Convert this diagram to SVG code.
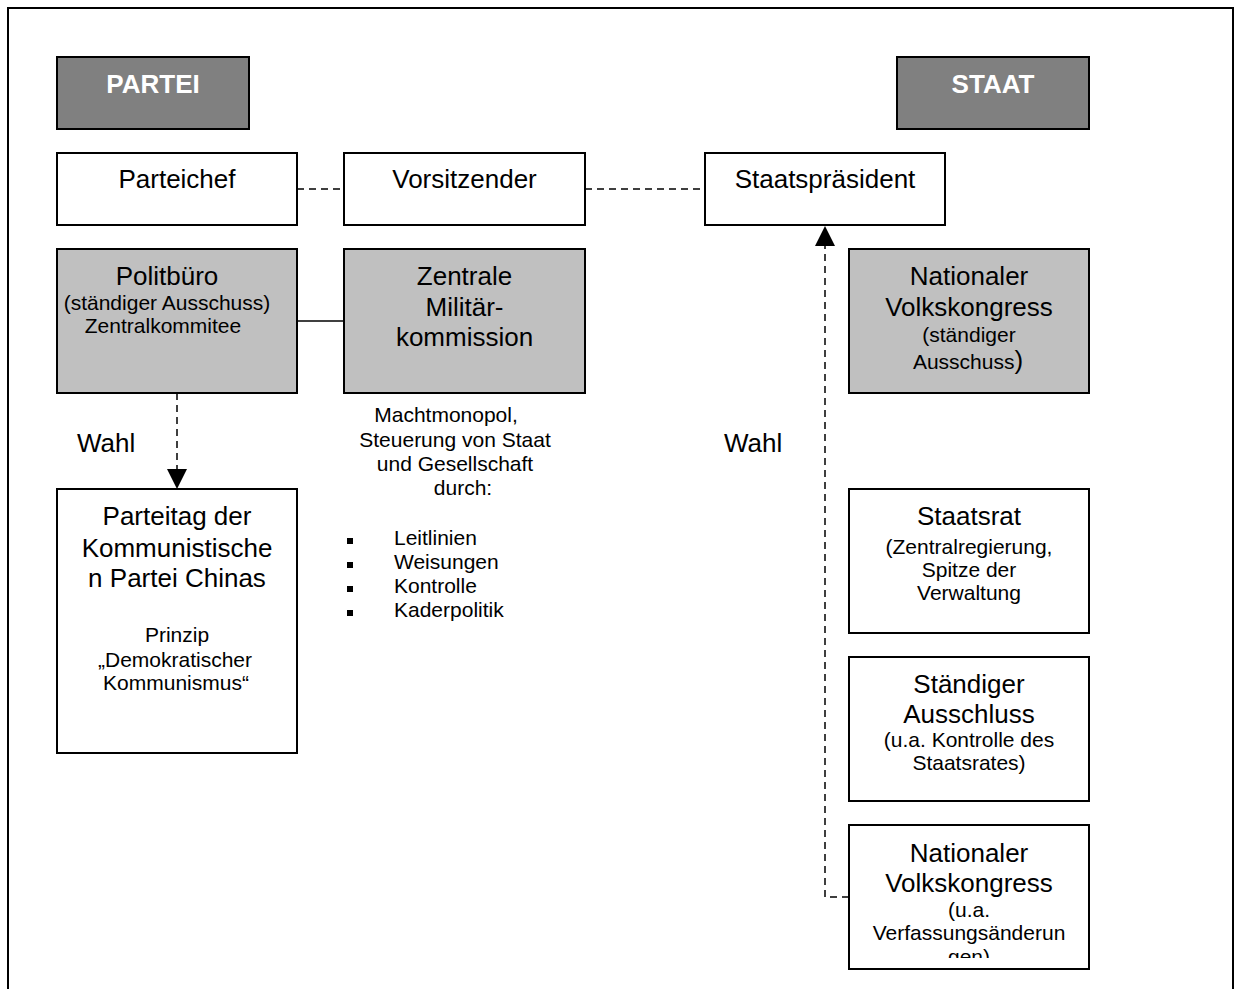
<svg xmlns="http://www.w3.org/2000/svg" width="1235" height="989" viewBox="0 0 1235 989">
<style>
  .box{fill:#ffffff;stroke:#000;stroke-width:2}
  .gray{fill:#c0c0c0;stroke:#000;stroke-width:2}
  .head{fill:#808080;stroke:#000;stroke-width:2}
  text{font-family:"Liberation Sans",Arial,sans-serif;fill:#000;text-anchor:middle}
  .big{font-size:26px}
  .sm{font-size:21px}
  .ht{font-size:26px;font-weight:bold;fill:#fff}
  .lt{text-anchor:start}
  .dash{fill:none;stroke:#000;stroke-width:1.5;stroke-dasharray:7 5}
  .solid{fill:none;stroke:#000;stroke-width:1.5}
</style>
<defs>
  <marker id="arr" markerUnits="userSpaceOnUse" markerWidth="20" markerHeight="20" refX="20" refY="10" orient="auto">
    <path d="M0,0 L20,10 L0,20 z" fill="#000"/>
  </marker>
  <clipPath id="clipNvk"><rect x="849" y="825" width="240" height="133"/></clipPath>
</defs>
<rect x="8" y="8" width="1225" height="1000" fill="#fff" stroke="#000" stroke-width="2"/>

<g id="connectors">
  <line class="dash" x1="297" y1="189" x2="344" y2="189"/>
  <line class="dash" x1="585" y1="189" x2="705" y2="189"/>
  <line class="solid" x1="297" y1="321" x2="344" y2="321"/>
  <line class="dash" x1="177" y1="393" x2="177" y2="489" marker-end="url(#arr)"/>
  <polyline class="dash" points="849,897 825,897 825,226" marker-end="url(#arr)"/>
</g>

<g id="partei">
  <rect class="head" x="57" y="57" width="192" height="72"/>
  <text class="ht" x="153" y="93">PARTEI</text>
</g>
<g id="staat">
  <rect class="head" x="897" y="57" width="192" height="72"/>
  <text class="ht" x="993" y="93">STAAT</text>
</g>

<g id="parteichef">
  <rect class="box" x="57" y="153" width="240" height="72"/>
  <text class="big" x="177" y="188">Parteichef</text>
</g>
<g id="vorsitzender">
  <rect class="box" x="344" y="153" width="241" height="72"/>
  <text class="big" x="464.5" y="188">Vorsitzender</text>
</g>
<g id="staatspraesident">
  <rect class="box" x="705" y="153" width="240" height="72"/>
  <text class="big" x="825" y="188">Staatspräsident</text>
</g>

<g id="politbuero">
  <rect class="gray" x="57" y="249" width="240" height="144"/>
  <text class="big" x="167" y="285">Politbüro</text>
  <text class="sm" x="167" y="310">(ständiger Ausschuss)</text>
  <text class="sm" x="163" y="333">Zentralkommitee</text>
</g>
<g id="militaerkommission">
  <rect class="gray" x="344" y="249" width="241" height="144"/>
  <text class="big" x="464.5" y="285">Zentrale</text>
  <text class="big" x="464.5" y="316">Militär-</text>
  <text class="big" x="464.5" y="346">kommission</text>
</g>
<g id="nvk-ausschuss">
  <rect class="gray" x="849" y="249" width="240" height="144"/>
  <text class="big" x="969" y="285">Nationaler</text>
  <text class="big" x="969" y="316">Volkskongress</text>
  <text class="sm" x="969" y="342">(ständiger</text>
  <text class="sm" x="968" y="369">Ausschuss<tspan font-size="26px">)</tspan></text>
</g>

<g id="machtmonopol">
  <text class="sm" x="446" y="422">Machtmonopol,</text>
  <text class="sm" x="455" y="447">Steuerung von Staat</text>
  <text class="sm" x="455" y="471">und Gesellschaft</text>
  <text class="sm" x="463" y="495">durch:</text>
  <rect x="347" y="538" width="6" height="6"/>
  <rect x="347" y="562" width="6" height="6"/>
  <rect x="347" y="586" width="6" height="6"/>
  <rect x="347" y="610" width="6" height="6"/>
  <text class="sm lt" x="394" y="545">Leitlinien</text>
  <text class="sm lt" x="394" y="569">Weisungen</text>
  <text class="sm lt" x="394" y="593">Kontrolle</text>
  <text class="sm lt" x="394" y="617">Kaderpolitik</text>
</g>

<g id="wahl-labels">
  <text class="big lt" x="77" y="452">Wahl</text>
  <text class="big lt" x="724" y="452">Wahl</text>
</g>

<g id="parteitag">
  <rect class="box" x="57" y="489" width="240" height="264"/>
  <text class="big" x="177" y="525">Parteitag der</text>
  <text class="big" x="177" y="557">Kommunistische</text>
  <text class="big" x="177" y="587">n Partei Chinas</text>
  <text class="sm" x="177" y="642">Prinzip</text>
  <text class="sm" x="175" y="667">„Demokratischer</text>
  <text class="sm" x="176" y="690">Kommunismus“</text>
</g>

<g id="staatsrat">
  <rect class="box" x="849" y="489" width="240" height="144"/>
  <text class="big" x="969" y="525">Staatsrat</text>
  <text class="sm" x="969" y="554">(Zentralregierung,</text>
  <text class="sm" x="969" y="577">Spitze der</text>
  <text class="sm" x="969" y="600">Verwaltung</text>
</g>

<g id="staendiger-ausschluss">
  <rect class="box" x="849" y="657" width="240" height="144"/>
  <text class="big" x="969" y="693">Ständiger</text>
  <text class="big" x="969" y="723">Ausschluss</text>
  <text class="sm" x="969" y="747">(u.a. Kontrolle des</text>
  <text class="sm" x="969" y="770">Staatsrates)</text>
</g>

<g id="nvk">
  <rect class="box" x="849" y="825" width="240" height="144"/>
  <g clip-path="url(#clipNvk)">
    <text class="big" x="969" y="862">Nationaler</text>
    <text class="big" x="969" y="892">Volkskongress</text>
    <text class="sm" x="969" y="917">(u.a.</text>
    <text class="sm" x="969" y="940">Verfassungsänderun</text>
    <text class="sm" x="969" y="964">gen)</text>
  </g>
</g>
</svg>
